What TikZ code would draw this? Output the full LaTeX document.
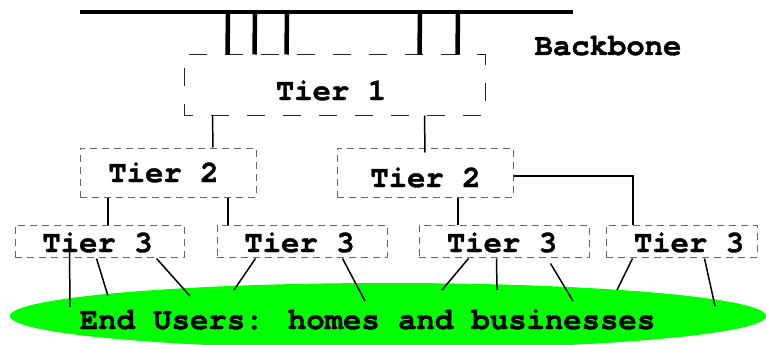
\documentclass[tikz,border=0pt]{standalone}
\usepackage{fontspec}
\newfontfamily\cour{texgyrecursor}[Extension=.otf, UprightFont=*-regular, BoldFont=*-bold, BoldFeatures={FakeBold=1.2}]
\usetikzlibrary{calc}
\definecolor{usergreen}{RGB}{0,255,0}
\tikzset{
  lbl/.style={anchor=base, font=\cour\bfseries\fontsize{30.6}{30.6}\selectfont, inner sep=0pt},
  tierone/.style={draw=black!85, line width=1pt, dash pattern=on 18pt off 18pt, dash phase=9pt,
    rectangle, inner sep=0pt},
  tierbox/.style={draw=black!60, line width=1pt, dash pattern=on 7pt off 5pt,
    rectangle, inner sep=0pt},
  link/.style={draw=black, line width=1.5pt},
  trunk/.style={draw=black, line width=4.5pt},
}
\begin{document}
\begin{tikzpicture}[x=1pt, y=-1pt]
\useasboundingbox (0,0) rectangle (766,345);

% end users
\fill[usergreen] (388,316) ellipse [x radius=378, y radius=33];
\node[lbl] (users) at (367.5,329) {End Users: homes and businesses};

% backbone
\coordinate (bbl) at (80,12);
\coordinate (bbr) at (573,12);
\draw[trunk] (bbl) -- (bbr);
\node[lbl] (bbtext) at (608,55) {Backbone};

% tier boxes
\node[tierone, minimum width=301pt, minimum height=60pt] (t1) at (334.5,85) {};
\node[tierbox, minimum width=176pt, minimum height=49pt] (t2a) at (168,172.5) {};
\node[tierbox, minimum width=176pt, minimum height=49pt] (t2b) at (425,172.5) {};
\node[tierbox, minimum width=169pt, minimum height=32pt] (t3a) at (99.5,241) {};
\node[tierbox, minimum width=170pt, minimum height=32pt] (t3b) at (302,241) {};
\node[tierbox, minimum width=170pt, minimum height=32pt] (t3c) at (504,241) {};
\node[tierbox, minimum width=151pt, minimum height=32pt] (t3d) at (681.5,241) {};

% tier labels
\node[lbl] (t1l) at (331,100) {Tier 1};
\node[lbl] (t2al) at (163.5,182) {Tier 2};
\node[lbl] (t2bl) at (425.5,187) {Tier 2};
\node[lbl] (t3al) at (97.5,252) {Tier 3};
\node[lbl] (t3bl) at (299.5,252) {Tier 3};
\node[lbl] (t3cl) at (502,252) {Tier 3};
\node[lbl] (t3dl) at (689,252) {Tier 3};

% backbone attachments of tier 1
\foreach \dx in {44,71,103,236,274}
  \draw[trunk] ($(t1.north west)+(\dx,0)$) -- ($(bbl)+(\dx+104,0)$);

% tier 1 to tier 2
\draw[link] ($(t1.south west)+(29,0)$) -- ($(t2a.north)+(45,0)$);
\draw[link] ($(t1.south west)+(241,0)$) -- ($(t2b.north)+(0,5)$);

% tier 2 to tier 3
\draw[link] ($(t2a.south)+(-60,0)$) -- ($(t3a.north)+(8.5,0)$);
\draw[link] ($(t2a.south)+(60,0)$) -- ($(t3b.north)+(-74,0)$);
\draw[link] ($(t2b.south)+(33,0)$) -- ($(t3c.north)+(-46,0)$);
\draw[link] ($(t2b.east)+(0,3.5)$) -| ($(t3d.north)+(-48.5,0)$);

% tier 3 to end users
\coordinate (u1) at (70,307);
\coordinate (u2) at (108,296);
\coordinate (u3) at (190,296);
\coordinate (u4) at (234,290);
\coordinate (u5) at (365,301);
\coordinate (u6) at (442,290);
\coordinate (u7) at (497,290);
\coordinate (u8) at (573,301);
\coordinate (u9) at (617,290);
\coordinate (u10) at (715,306);
\draw[link] ($(t3a.south west)+(55,-6)$) -- (u1);
\draw[link] ($(t3a.south west)+(82,1)$) -- (u2);
\draw[link] ($(t3a.south west)+(142,1)$) -- (u3);
\draw[link] ($(t3b.south west)+(39,1)$) -- (u4);
\draw[link] ($(t3b.south west)+(126,1)$) -- (u5);
\draw[link] ($(t3c.south west)+(50,1)$) -- (u6);
\draw[link] ($(t3c.south west)+(78,1)$) -- (u7);
\draw[link] ($(t3c.south west)+(132,6)$) -- (u8);
\draw[link] ($(t3d.south west)+(27,1)$) -- (u9);
\draw[link] ($(t3d.south west)+(99,1)$) -- (u10);
\end{tikzpicture}
\end{document}
